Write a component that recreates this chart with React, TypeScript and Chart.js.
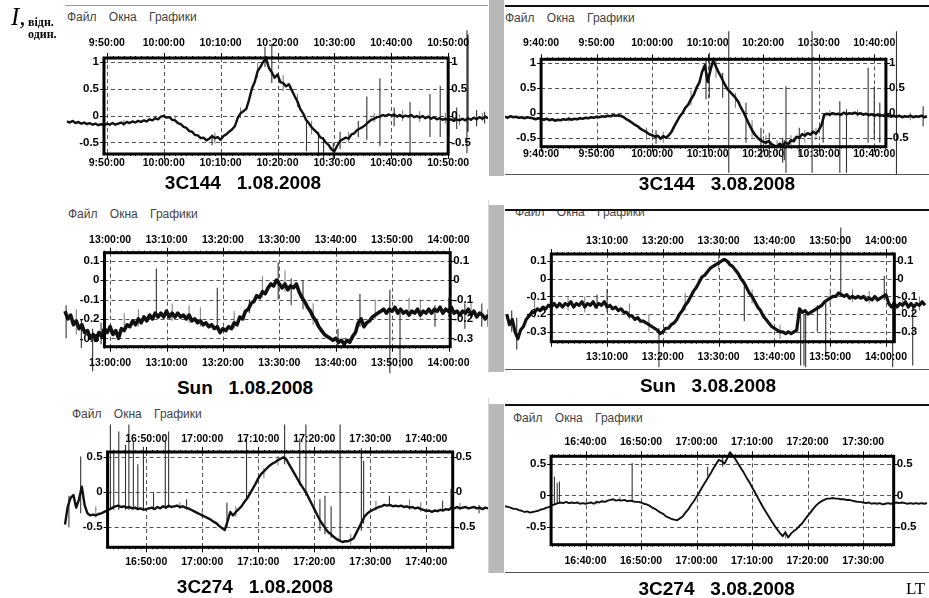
import { useEffect, useRef } from 'react';
import { Chart, registerables } from 'chart.js';

Chart.register(...registerables);

// samples are every half minute; time is in minutes from the first labelled tick
const STEP = 0.5;

// 3C144, 1.08.2008 (t = 0 at 9:50:00)
const start1 = -7;
const sig1 = [
  -0.11, -0.13, -0.10, -0.14, -0.12, -0.15, -0.13, -0.16, -0.14, -0.17,
  -0.15, -0.18, -0.16, -0.19, -0.15, -0.17, -0.14, -0.17, -0.15, -0.13,
  -0.16, -0.12, -0.14, -0.11, -0.13, -0.10, -0.12, -0.09, -0.11, -0.07,
  -0.09, -0.05, -0.07, -0.02, -0.01, -0.04, -0.03, -0.08, -0.09, -0.14,
  -0.16, -0.21, -0.23, -0.29, -0.30, -0.36, -0.37, -0.42, -0.41, -0.46,
  -0.43, -0.38, -0.42, -0.40, -0.45, -0.38, -0.35, -0.30, -0.26, -0.20,
  -0.05, 0.04, 0.08, 0.12, 0.29, 0.50, 0.62, 0.82, 0.90, 1.00,
  1.05, 0.88, 0.80, 0.70, 0.76, 0.62, 0.60, 0.54, 0.58, 0.47,
  0.36, 0.26, 0.12, 0.04, -0.08, -0.14, -0.22, -0.27, -0.32, -0.40,
  -0.43, -0.50, -0.55, -0.63, -0.66, -0.56, -0.47, -0.44, -0.41, -0.43,
  -0.35, -0.33, -0.27, -0.24, -0.21, -0.17, -0.12, -0.08, -0.06, -0.03,
  -0.02, 0.01, -0.01, 0.02, 0.00, 0.02, -0.02, 0.01, -0.03, 0.00,
  -0.02, 0.01, -0.03, -0.01, -0.04, -0.01, -0.05, -0.02, -0.06, -0.03,
  -0.07, -0.05, -0.08, -0.06, -0.09, -0.07, -0.10, -0.07, -0.09, -0.06,
  -0.09, -0.05, -0.08, -0.04, -0.07, -0.03, -0.06, -0.02, -0.05,
];
// [time, low, high]
const spikes1 = [
  [18.5, -0.55, -0.35], [27.8, 0.9, 1.27], [29.0, 0.6, 1.33], [35.1, -0.66, -0.05],
  [37.2, -0.75, -0.3], [38.1, -0.82, -0.4], [39.8, -0.82, -0.5], [41.0, -0.62, -0.3],
  [44.2, -0.4, -0.1], [45.7, -0.45, 0.35], [48.0, -0.57, 0.69], [50.5, -0.2, 0.15],
  [53.3, -0.75, 0.25], [56.8, -0.4, 0.4], [58.6, -0.4, 0.55], [60.1, -0.35, 0.2],
  [61.5, -0.25, 0.15], [63.3, -0.7, 1.58], [63.5, -0.3, 1.5], [65.0, -0.2, 0.1],
  [66.4, -0.15, 0.07],
];
const hairs1 = [
  [3, -0.2, -0.08], [12, -0.12, 0.0], [19, -0.52, -0.32], [23.5, -0.05, 0.15],
  [26.5, 0.7, 0.98], [31, 0.45, 0.75], [33.5, 0.15, 0.4], [36, -0.35, -0.1],
  [42.5, -0.5, -0.3], [47, -0.12, 0.05], [52, -0.1, 0.1], [55, -0.12, 0.08],
  [59.5, -0.15, 0.05], [62, -0.18, 0.02], [66, -0.1, 0.05],
];
const timeTicks1 = [0, 10, 20, 30, 40, 50, 60];
const timeLabels1 = ['9:50:00', '10:00:00', '10:10:00', '10:20:00', '10:30:00', '10:40:00', '10:50:00'];
const yTicks1 = [-0.5, 0, 0.5, 1];
const yLabels1 = ['-0.5', '0', '0.5', '1'];

// 3C144, 3.08.2008 (t = 0 at 9:40:00)
const start2 = -6.5;
const sig2 = [
  -0.08, -0.10, -0.07, -0.09, -0.08, -0.10, -0.09, -0.11, -0.09, -0.10,
  -0.11, -0.13, -0.11, -0.12, -0.14, -0.12, -0.15, -0.13, -0.16, -0.14,
  -0.15, -0.13, -0.14, -0.12, -0.14, -0.12, -0.13, -0.11, -0.12, -0.10,
  -0.11, -0.09, -0.10, -0.08, -0.09, -0.07, -0.08, -0.06, -0.07, -0.05,
  -0.06, -0.05, -0.07, -0.10, -0.14, -0.17, -0.21, -0.25, -0.28, -0.33,
  -0.36, -0.39, -0.43, -0.45, -0.48, -0.46, -0.52, -0.47, -0.50, -0.45,
  -0.38, -0.27, -0.17, -0.07, 0.00, 0.10, 0.16, 0.27, 0.36, 0.50,
  0.60, 0.82, 0.95, 0.62, 0.85, 1.05, 0.92, 0.80, 0.70, 0.58,
  0.48, 0.42, 0.36, 0.30, 0.22, 0.10, 0.00, -0.12, -0.24, -0.35,
  -0.44, -0.50, -0.55, -0.58, -0.60, -0.57, -0.63, -0.66, -0.68, -0.62,
  -0.66, -0.60, -0.63, -0.55, -0.57, -0.48, -0.50, -0.43, -0.46, -0.41,
  -0.44, -0.38, -0.42, -0.35, -0.25, -0.04, -0.02, -0.04, -0.01, -0.03,
  -0.02, -0.04, 0.00, -0.03, -0.01, -0.02, 0.00, -0.03, -0.01, -0.04,
  -0.02, -0.05, -0.03, -0.06, -0.04, -0.06, -0.05, -0.07, -0.05, -0.08,
  -0.06, -0.08, -0.06, -0.09, -0.07, -0.08, -0.06, -0.09, -0.07, -0.08,
  -0.06, -0.09, -0.07,
];
const spikes2 = [
  [20.7, -0.62, -0.35], [29.7, 0.27, 1.1], [30.3, 0.3, 1.2], [32.7, 0.3, 0.8],
  [33.8, -1.2, 1.63], [36.9, -0.6, 0.2], [39.6, -0.9, -0.3], [41.1, -0.9, -0.4],
  [43.5, -1.0, -0.5], [43.8, -0.95, -0.55], [44.1, -1.2, 0.53], [46.5, -0.85, -0.3],
  [48.8, -1.2, 1.63], [50.8, -0.6, -0.05], [53.8, -1.2, 0.23], [55.0, -1.2, 0.07],
  [58.9, -0.6, 0.9], [60.0, -0.53, 0.53], [61.0, -0.6, 0.2], [64.0, -1.23, 1.63],
  [68.8, -0.27, 0.13],
];
const hairs2 = [
  [5, -0.18, -0.08], [14, -0.1, 0.0], [19, -0.55, -0.3], [22, -0.6, -0.38],
  [27, 0.15, 0.45], [31.5, 0.7, 1.05], [35, 0.1, 0.4], [38, -0.5, -0.15],
  [40.5, -0.7, -0.45], [42.5, -0.85, -0.55], [45, -0.7, -0.45], [47.5, -0.6, -0.35],
  [49.5, -0.55, -0.3], [52, -0.08, 0.05], [57, -0.08, 0.06], [62.5, -0.12, 0.0],
  [66.5, -0.15, 0.0],
];
const timeTicks2 = [0, 10, 20, 30, 40, 50, 60];
const timeLabels2 = ['9:40:00', '9:50:00', '10:00:00', '10:10:00', '10:20:00', '10:30:00', '10:40:00'];
const yTicks2 = [-0.5, 0, 0.5, 1];
const yLabels2 = ['-0.5', '0', '0.5', '1'];

// Sun, 1.08.2008 (t = 0 at 13:00:00)
const start3 = -8;
const sig3 = [
  -0.16, -0.20, -0.18, -0.23, -0.21, -0.25, -0.23, -0.27, -0.26, -0.30,
  -0.28, -0.31, -0.27, -0.29, -0.25, -0.27, -0.24, -0.28, -0.26, -0.30,
  -0.25, -0.26, -0.23, -0.24, -0.21, -0.23, -0.20, -0.22, -0.19, -0.21,
  -0.18, -0.20, -0.17, -0.19, -0.17, -0.19, -0.16, -0.19, -0.17, -0.19,
  -0.17, -0.19, -0.18, -0.20, -0.18, -0.21, -0.20, -0.22, -0.21, -0.23,
  -0.22, -0.24, -0.23, -0.25, -0.24, -0.27, -0.25, -0.26, -0.24, -0.25,
  -0.22, -0.23, -0.19, -0.20, -0.16, -0.15, -0.12, -0.11, -0.08, -0.09,
  -0.06, -0.07, -0.04, -0.02, -0.03, 0.00, -0.02, -0.04, -0.02, -0.05,
  -0.03, -0.04, -0.02, -0.06, -0.09, -0.11, -0.14, -0.16, -0.19, -0.21,
  -0.24, -0.26, -0.28, -0.29, -0.30, -0.31, -0.30, -0.32, -0.31, -0.33,
  -0.31, -0.32, -0.29, -0.27, -0.22, -0.20, -0.24, -0.22, -0.21, -0.19,
  -0.18, -0.17, -0.16, -0.15, -0.17, -0.15, -0.16, -0.14, -0.17, -0.15,
  -0.17, -0.16, -0.18, -0.16, -0.17, -0.15, -0.18, -0.16, -0.17, -0.15,
  -0.17, -0.15, -0.16, -0.14, -0.17, -0.15, -0.16, -0.14, -0.17, -0.16,
  -0.18, -0.16, -0.17, -0.15, -0.18, -0.16, -0.19, -0.17, -0.18, -0.20,
  -0.18,
];
const spikes3 = [
  [-7.8, -0.3, -0.13], [-5.1, -0.35, -0.2], [-3.1, -0.47, -0.25], [-1.6, -0.33, -0.22],
  [8.2, -0.17, 0.06], [19.0, -0.26, -0.04], [24.7, -0.17, -0.1], [29.8, -0.1, 0.09],
  [32.1, -0.13, 0.01], [34.2, -0.15, 0.0], [40.4, -0.35, -0.25], [44.3, -0.24, -0.07],
  [49.6, -0.48, -0.05], [51.4, -0.45, -0.17], [57.6, -0.24, -0.13], [62.9, -0.25, -0.12],
  [65.9, -0.24, -0.12], [67.0, -0.24, -0.15],
];
const hairs3 = [
  [-6, -0.28, -0.15], [2.5, -0.27, -0.17], [5, -0.24, -0.15], [11, -0.21, -0.12],
  [14, -0.22, -0.13], [16, -0.24, -0.14], [22, -0.25, -0.16], [27, -0.09, 0.02],
  [31, -0.06, 0.05], [36, -0.23, -0.12], [47, -0.2, -0.1], [53, -0.19, -0.09],
  [55, -0.2, -0.1], [60, -0.19, -0.09], [64, -0.2, -0.11],
];
const timeTicks3 = [0, 10, 20, 30, 40, 50, 60];
const timeLabels3 = ['13:00:00', '13:10:00', '13:20:00', '13:30:00', '13:40:00', '13:50:00', '14:00:00'];
const yTicks3 = [-0.3, -0.2, -0.1, 0, 0.1];
const yLabels3 = ['-0.3', '-0.2', '-0.1', '0', '0.1'];

// Sun, 3.08.2008 (t = 0 at 13:00:00)
const start4 = -8;
const sig4 = [
  -0.20, -0.26, -0.23, -0.30, -0.34, -0.29, -0.27, -0.23, -0.21, -0.19,
  -0.19, -0.17, -0.18, -0.16, -0.17, -0.15, -0.16, -0.14, -0.16, -0.14,
  -0.16, -0.14, -0.15, -0.13, -0.16, -0.14, -0.15, -0.13, -0.16, -0.14,
  -0.15, -0.13, -0.16, -0.14, -0.15, -0.13, -0.16, -0.15, -0.17, -0.16,
  -0.18, -0.17, -0.19, -0.19, -0.21, -0.21, -0.23, -0.22, -0.24, -0.24,
  -0.25, -0.26, -0.27, -0.28, -0.29, -0.31, -0.30, -0.28, -0.28, -0.26,
  -0.25, -0.23, -0.20, -0.18, -0.15, -0.13, -0.10, -0.07, -0.05, -0.02,
  0.01, 0.02, 0.04, 0.06, 0.07, 0.08, 0.09, 0.10, 0.11, 0.10,
  0.08, 0.07, 0.05, 0.03, 0.00, -0.02, -0.05, -0.08, -0.10, -0.13,
  -0.16, -0.18, -0.21, -0.23, -0.25, -0.27, -0.28, -0.29, -0.30, -0.30,
  -0.31, -0.30, -0.31, -0.30, -0.29, -0.17, -0.19, -0.18, -0.20, -0.19,
  -0.18, -0.17, -0.16, -0.15, -0.13, -0.12, -0.11, -0.10, -0.10, -0.08,
  -0.09, -0.10, -0.09, -0.11, -0.10, -0.11, -0.10, -0.11, -0.10, -0.12,
  -0.11, -0.12, -0.10, -0.12, -0.11, -0.10, -0.09, -0.14, -0.16, -0.14,
  -0.16, -0.14, -0.15, -0.13, -0.16, -0.14, -0.16, -0.14, -0.15, -0.13,
  -0.15,
];
const spikes4 = [
  [-7.1, -0.3, -0.18], [-6.2, -0.4, -0.22], [8.2, -0.17, -0.09], [10.0, -0.19, -0.06],
  [19.3, -0.5, -0.28], [34.6, -0.24, -0.04], [44.7, -0.49, -0.17], [45.3, -0.49, -0.2],
  [45.6, -0.5, -0.2], [47.7, -0.3, -0.15], [49.2, -0.44, -0.13], [51.9, -0.1, 0.29],
  [59.7, -0.12, 0.015], [61.2, -0.5, -0.13], [64.8, -0.49, -0.15],
];
const hairs4 = [
  [-3, -0.22, -0.12], [3, -0.18, -0.1], [6, -0.19, -0.1], [14, -0.23, -0.14],
  [17.5, -0.3, -0.2], [24, -0.18, -0.08], [30, 0.05, 0.14], [36, -0.14, -0.06],
  [41, -0.34, -0.26], [50, -0.15, -0.06], [54, -0.13, -0.06], [57, -0.14, -0.07],
  [63, -0.18, -0.1], [66, -0.18, -0.1],
];
const timeTicks4 = [10, 20, 30, 40, 50, 60];
const timeLabels4 = ['13:10:00', '13:20:00', '13:30:00', '13:40:00', '13:50:00', '14:00:00'];
const yTicks4 = [-0.3, -0.2, -0.1, 0, 0.1];
const yLabels4 = ['-0.3', '-0.2', '-0.1', '0', '0.1'];

// 3C274, 1.08.2008 (t = 0 at 16:50:00)
const start5 = -14.5;
const sig5 = [
  -0.46, -0.20, -0.08, -0.04, -0.22, -0.10, 0.08, -0.18, -0.30, -0.33,
  -0.32, -0.33, -0.31, -0.30, -0.28, -0.26, -0.24, -0.22, -0.20, -0.19,
  -0.21, -0.20, -0.22, -0.21, -0.23, -0.22, -0.24, -0.23, -0.25, -0.24,
  -0.23, -0.22, -0.24, -0.21, -0.23, -0.20, -0.22, -0.19, -0.21, -0.20,
  -0.19, -0.21, -0.20, -0.22, -0.23, -0.25, -0.27, -0.29, -0.31, -0.33,
  -0.35, -0.37, -0.39, -0.42, -0.44, -0.48, -0.51, -0.54, -0.42, -0.28,
  -0.33, -0.28, -0.24, -0.20, -0.14, -0.09, -0.02, 0.05, 0.12, 0.20,
  0.26, 0.30, 0.34, 0.38, 0.41, 0.43, 0.46, 0.48, 0.50, 0.47,
  0.40, 0.33, 0.26, 0.19, 0.12, 0.06, 0.00, -0.08, -0.16, -0.24,
  -0.32, -0.40, -0.46, -0.52, -0.57, -0.60, -0.64, -0.67, -0.69, -0.71,
  -0.70, -0.70, -0.68, -0.66, -0.58, -0.50, -0.42, -0.34, -0.30, -0.27,
  -0.25, -0.23, -0.21, -0.20, -0.18, -0.19, -0.18, -0.20, -0.19, -0.20,
  -0.19, -0.21, -0.20, -0.22, -0.21, -0.23, -0.22, -0.24, -0.25, -0.27,
  -0.26, -0.28, -0.26, -0.27, -0.25, -0.26, -0.24, -0.25, -0.22, -0.23,
  -0.21, -0.23, -0.22, -0.21, -0.23, -0.22, -0.21, -0.23, -0.22, -0.24,
  -0.22, -0.23,
];
const spikes5 = [
  [-13.8, -0.5, -0.05], [-11.7, -0.3, 0.51], [-6.4, -0.25, 0.97], [-5.8, -0.25, 0.6],
  [-4.9, -0.25, 0.87], [-3.7, -0.25, 0.68], [-3.1, -0.25, 0.97], [-2.3, -0.25, 0.73],
  [-1.5, -0.25, 0.4], [-0.5, -0.25, 0.65], [1.3, -0.25, 0.0], [3.4, -0.22, 0.73],
  [4.0, -0.22, 0.87], [7.2, -0.25, -0.1], [14.4, -0.5, -0.15], [17.9, -0.1, 0.77],
  [24.7, 0.4, 0.97], [27.4, 0.1, 0.77], [28.5, -0.05, 0.97], [31.0, -0.55, -0.1],
  [31.9, -0.6, -0.05], [33.0, -0.65, -0.2], [34.6, -0.7, 0.97], [38.4, -0.55, 0.63],
  [38.8, -0.45, 0.45], [43.4, -0.2, -0.05], [52.9, -0.25, -0.12], [54.4, -0.22, 0.05],
  [59.4, -0.3, -0.18],
];
const hairs5 = [
  [-9, -0.36, -0.2], [6, -0.24, -0.14], [10, -0.35, -0.25], [16, -0.35, -0.2],
  [21, 0.2, 0.35], [23.5, 0.38, 0.52], [30, -0.3, -0.1], [36.5, -0.75, -0.6],
  [41, -0.26, -0.12], [47, -0.25, -0.1], [49, -0.28, -0.14], [56, -0.25, -0.15],
];
const timeTicks5 = [0, 10, 20, 30, 40, 50];
const timeLabels5 = ['16:50:00', '17:00:00', '17:10:00', '17:20:00', '17:30:00', '17:40:00'];
const yTicks5 = [-0.5, 0, 0.5];
const yLabels5 = ['-0.5', '0', '0.5'];

// 3C274, 3.08.2008 (t = 0 at 16:40:00)
const start6 = -14.5;
const sig6 = [
  -0.17, -0.18, -0.19, -0.21, -0.21, -0.23, -0.24, -0.26, -0.25, -0.27,
  -0.26, -0.25, -0.24, -0.22, -0.21, -0.19, -0.18, -0.15, -0.14, -0.12,
  -0.11, -0.12, -0.10, -0.12, -0.11, -0.12, -0.11, -0.13, -0.12, -0.13,
  -0.12, -0.11, -0.13, -0.10, -0.11, -0.09, -0.10, -0.08, -0.07, -0.06,
  -0.08, -0.07, -0.08, -0.07, -0.09, -0.08, -0.09, -0.10, -0.10, -0.11,
  -0.13, -0.14, -0.16, -0.19, -0.21, -0.24, -0.27, -0.29, -0.33, -0.35,
  -0.37, -0.38, -0.39, -0.36, -0.33, -0.27, -0.22, -0.15, -0.09, -0.02,
  0.05, 0.13, 0.20, 0.27, 0.34, 0.42, 0.49, 0.56, 0.54, 0.50,
  0.58, 0.68, 0.63, 0.57, 0.50, 0.43, 0.36, 0.28, 0.21, 0.13,
  0.05, -0.03, -0.11, -0.19, -0.26, -0.33, -0.40, -0.47, -0.53, -0.59,
  -0.64, -0.58, -0.66, -0.60, -0.56, -0.53, -0.48, -0.44, -0.38, -0.32,
  -0.27, -0.21, -0.16, -0.12, -0.09, -0.07, -0.05, -0.05, -0.04, -0.05,
  -0.05, -0.06, -0.06, -0.07, -0.07, -0.08, -0.09, -0.10, -0.10, -0.11,
  -0.12, -0.11, -0.13, -0.12, -0.13, -0.12, -0.14, -0.13, -0.12, -0.13,
  -0.12, -0.11, -0.12, -0.11, -0.12, -0.13, -0.12, -0.13, -0.12, -0.13,
  -0.12, -0.13, -0.12,
];
const spikes6 = [
  [-5.6, -0.15, 0.3], [-5.1, -0.13, 0.2], [-4.7, -0.13, 0.22], [8.4, -0.09, 0.51],
  [22.0, 0.3, 0.45], [24.7, 0.45, 0.62],
];
const hairs6 = [[2, -0.14, -0.08], [6.2, -0.1, -0.02], [36, -0.68, -0.55]];
const timeTicks6 = [0, 10, 20, 30, 40, 50];
const timeLabels6 = ['16:40:00', '16:50:00', '17:00:00', '17:10:00', '17:20:00', '17:30:00'];
const yTicks6 = [-0.5, 0, 0.5];
const yLabels6 = ['-0.5', '0', '0.5'];

type Lay = {
  colX: number; colW: number; top: number; bottom: number;
  dataL: number; dataR: number; boxT: number; boxB: number;
  topLbl: number; botLbl: number; box: number[]; yMin: number; yMax: number; lw: number;
};
type PanelDef = {
  sig: number[]; start: number; spikes: number[][]; hairs: number[][];
  ticks: number[]; labels: string[]; yTicks: number[]; yLabels: string[]; lay: Lay;
};

const panels: PanelDef[] = [
  { sig: sig1, start: start1, spikes: spikes1, hairs: hairs1, ticks: timeTicks1, labels: timeLabels1, yTicks: yTicks1, yLabels: yLabels1,
    lay: { colX: 0, colW: 488, top: 20, bottom: 178, dataL: 67, dataR: 488, boxT: 58, boxB: 154, topLbl: 43, botLbl: 163, box: [-0.5, 60], yMin: -0.713, yMax: 1.065, lw: 2.4 } },
  { sig: sig2, start: start2, spikes: spikes2, hairs: hairs2, ticks: timeTicks2, labels: timeLabels2, yTicks: yTicks2, yLabels: yLabels2,
    lay: { colX: 505, colW: 424, top: 20, bottom: 178, dataL: 505, dataR: 927, boxT: 59.3, boxB: 146.7, topLbl: 43, botLbl: 154, box: [0, 62.1], yMin: -0.68, yMax: 1.068, lw: 2.6 } },
  { sig: sig3, start: start3, spikes: spikes3, hairs: hairs3, ticks: timeTicks3, labels: timeLabels3, yTicks: yTicks3, yLabels: yLabels3,
    lay: { colX: 0, colW: 488, top: 222, bottom: 376, dataL: 65, dataR: 488, boxT: 252.7, boxB: 346.7, topLbl: 240, botLbl: 363.3, box: [-1, 60.3], yMin: -0.343, yMax: 0.141, lw: 3.6 } },
  { sig: sig4, start: start4, spikes: spikes4, hairs: hairs4, ticks: timeTicks4, labels: timeLabels4, yTicks: yTicks4, yLabels: yLabels4,
    lay: { colX: 505, colW: 424, top: 222, bottom: 376, dataL: 506.7, dataR: 925, boxT: 254, boxB: 341.7, topLbl: 241, botLbl: 356.7, box: [0, 61.5], yMin: -0.356, yMax: 0.14, lw: 3.2 } },
  { sig: sig5, start: start5, spikes: spikes5, hairs: hairs5, ticks: timeTicks5, labels: timeLabels5, yTicks: yTicks5, yLabels: yLabels5,
    lay: { colX: 0, colW: 488, top: 420, bottom: 576, dataL: 65, dataR: 488, boxT: 452, boxB: 547.3, topLbl: 439, botLbl: 562, box: [-6.9, 54.7], yMin: -0.786, yMax: 0.576, lw: 2.4 } },
  { sig: sig6, start: start6, spikes: spikes6, hairs: hairs6, ticks: timeTicks6, labels: timeLabels6, yTicks: yTicks6, yLabels: yLabels6,
    lay: { colX: 505, colW: 424, top: 420, bottom: 576, dataL: 505, dataR: 927, boxT: 456.3, boxB: 544.7, topLbl: 442.3, botLbl: 561.3, box: [-6.2, 55.5], yMin: -0.774, yMax: 0.616, lw: 1.9 } },
];

const SANS = '"Liberation Sans", Arial, sans-serif';
const SERIF = '"Liberation Serif", "Times New Roman", serif';

function makeDeco(p: PanelDef) {
  return {
    id: 'deco',
    beforeDatasetsDraw(chart: any) {
      const { ctx, chartArea } = chart;
      const xs = chart.scales.x, ys = chart.scales.y;
      const l = xs.getPixelForValue(p.lay.box[0]);
      const r = xs.getPixelForValue(p.lay.box[1]);
      const t = chartArea.top, b = chartArea.bottom;
      ctx.save();
      ctx.strokeStyle = '#555';
      ctx.lineWidth = 1;
      ctx.setLineDash([4, 3]);
      ctx.beginPath();
      p.ticks.forEach((v) => {
        const x = Math.round(xs.getPixelForValue(v)) + 0.5;
        if (x > l + 3 && x < r - 3) { ctx.moveTo(x, t); ctx.lineTo(x, b); }
      });
      p.yTicks.forEach((v) => {
        const y = Math.round(ys.getPixelForValue(v)) + 0.5;
        if (y > t + 2 && y < b - 2) { ctx.moveTo(l, y); ctx.lineTo(r, y); }
      });
      ctx.stroke();
      ctx.restore();
    },
    afterDatasetsDraw(chart: any) {
      const { ctx, chartArea } = chart;
      const xs = chart.scales.x, ys = chart.scales.y;
      const l = xs.getPixelForValue(p.lay.box[0]);
      const r = xs.getPixelForValue(p.lay.box[1]);
      const t = chartArea.top, b = chartArea.bottom;
      ctx.save();
      ctx.strokeStyle = '#000';
      // minor and major ticks on the box edges
      ctx.lineWidth = 1;
      ctx.beginPath();
      for (let m = Math.ceil(p.lay.box[0]); m <= p.lay.box[1]; m += 1) {
        const x = Math.round(xs.getPixelForValue(m)) + 0.5;
        const len = m % 10 === 0 ? 5 : 2;
        ctx.moveTo(x, t); ctx.lineTo(x, t - len);
        ctx.moveTo(x, b); ctx.lineTo(x, b + len);
      }
      p.yTicks.forEach((v) => {
        const y = Math.round(ys.getPixelForValue(v)) + 0.5;
        ctx.moveTo(l, y); ctx.lineTo(l - 4, y);
        ctx.moveTo(r, y); ctx.lineTo(r + 4, y);
      });
      ctx.stroke();
      ctx.lineWidth = 3;
      ctx.strokeRect(l, t, r - l, b - t);

      ctx.fillStyle = '#000';
      ctx.textBaseline = 'middle';
      ctx.textAlign = 'center';
      ctx.font = 'bold 10.5px ' + SANS;
      const topY = p.lay.topLbl - p.lay.top;
      const botY = p.lay.botLbl - p.lay.top;
      p.ticks.forEach((v, i) => {
        const x = xs.getPixelForValue(v);
        ctx.fillText(p.labels[i], x, topY);
        ctx.fillText(p.labels[i], x, botY);
      });
      ctx.font = 'bold 11.5px ' + SANS;
      p.yTicks.forEach((v, i) => {
        const y = ys.getPixelForValue(v);
        ctx.textAlign = 'right';
        ctx.fillText(p.yLabels[i], l - 5, y);
        ctx.textAlign = 'left';
        ctx.fillText(p.yLabels[i], r + 3, y);
      });
      ctx.restore();
    },
  };
}

function toSegments(list: number[][]) {
  const out: { x: number; y: number | null }[] = [];
  [...list].sort((a, b) => a[0] - b[0]).forEach(([t, lo, hi]) => {
    out.push({ x: t, y: lo }, { x: t, y: hi }, { x: t, y: null });
  });
  return out;
}

function Panel({ p }: { p: PanelDef }) {
  const ref = useRef<HTMLCanvasElement>(null);
  const { lay } = p;
  const h = lay.bottom - lay.top;

  useEffect(() => {
    const trace = p.sig.map((v, i) => ({ x: p.start + i * STEP, y: v }));
    const end = p.start + (p.sig.length - 1) * STEP;

    const chart = new Chart(ref.current as HTMLCanvasElement, {
      type: 'line',
      data: {
        datasets: [
          { data: toSegments(p.hairs) as any, borderColor: '#777', borderWidth: 1, pointRadius: 0, spanGaps: false, clip: false as any, order: 3 },
          { data: toSegments(p.spikes) as any, borderColor: '#333', borderWidth: 1.1, pointRadius: 0, spanGaps: false, clip: false as any, order: 2 },
          { data: trace, borderColor: '#111', borderWidth: lay.lw, borderJoinStyle: 'round', pointRadius: 0, clip: false as any, order: 1 },
        ],
      },
      options: {
        animation: false,
        responsive: false,
        maintainAspectRatio: false,
        events: [],
        layout: {
          padding: {
            left: lay.dataL - lay.colX,
            right: lay.colX + lay.colW - lay.dataR,
            top: lay.boxT - lay.top,
            bottom: lay.bottom - lay.boxB,
          },
        },
        scales: {
          x: { type: 'linear', display: false, min: p.start, max: end, offset: false },
          y: { type: 'linear', display: false, min: lay.yMin, max: lay.yMax },
        },
        plugins: { legend: { display: false }, tooltip: { enabled: false } },
      },
      plugins: [makeDeco(p)],
    });

    return () => {
      chart.destroy();
    };
  }, [p]);

  return (
    <canvas
      ref={ref}
      width={lay.colW}
      height={h}
      style={{ position: 'absolute', left: lay.colX, top: lay.top, width: lay.colW, height: h }}
    />
  );
}

const captions = [
  { text: '3C144   1.08.2008', x: 243, y: 182 },
  { text: '3C144   3.08.2008', x: 717, y: 183 },
  { text: 'Sun   1.08.2008', x: 245, y: 386.7 },
  { text: 'Sun   3.08.2008', x: 708, y: 385 },
  { text: '3C274   1.08.2008', x: 255, y: 586.3 },
  { text: '3C274   3.08.2008', x: 716.7, y: 588 },
];

const menus = [
  { x: 67, y: 10, clip: 0 },
  { x: 505, y: 11, clip: 0 },
  { x: 68, y: 207, clip: 0 },
  { x: 515, y: 205, clip: 211 },
  { x: 72, y: 407, clip: 0 },
  { x: 513, y: 411, clip: 0 },
];

const menuStyle = { fontFamily: SANS, fontSize: 12, color: '#444', wordSpacing: 9, whiteSpace: 'pre' as const, lineHeight: '14px' };

export default function App() {
  return (
    <div style={{ position: 'absolute', left: 0, top: 0, width: 929, height: 598, background: '#fff', overflow: 'hidden' }}>
      {/* frame pieces of the screenshots */}
      <div style={{ position: 'absolute', left: 65, top: 5, width: 423, height: 1, background: '#999' }} />
      <div style={{ position: 'absolute', left: 488, top: 200, width: 1, height: 173, background: '#d4d4d4' }} />
      <div style={{ position: 'absolute', left: 488, top: 398, width: 1, height: 175, background: '#d4d4d4' }} />
      <div style={{ position: 'absolute', left: 489, top: 0, width: 15, height: 176, background: '#b8b8b8' }} />
      <div style={{ position: 'absolute', left: 489, top: 205, width: 15, height: 167, background: '#b8b8b8' }} />
      <div style={{ position: 'absolute', left: 489, top: 404, width: 15, height: 169, background: '#b8b8b8' }} />
      <div style={{ position: 'absolute', left: 505, top: 5, width: 424, height: 2, background: '#111' }} />
      <div style={{ position: 'absolute', left: 505, top: 174, width: 424, height: 1, background: '#555' }} />
      <div style={{ position: 'absolute', left: 505, top: 209, width: 424, height: 2, background: '#111' }} />
      <div style={{ position: 'absolute', left: 505, top: 369, width: 424, height: 1, background: '#555' }} />
      <div style={{ position: 'absolute', left: 505, top: 404, width: 424, height: 2, background: '#111' }} />
      <div style={{ position: 'absolute', left: 505, top: 572, width: 424, height: 1, background: '#555' }} />

      {menus.map((m, i) =>
        m.clip ? (
          <div key={i} style={{ position: 'absolute', left: m.x, top: m.clip, height: 10, width: 200, overflow: 'hidden' }}>
            <div style={{ ...menuStyle, marginTop: m.y - m.clip }}>Файл Окна Графики</div>
          </div>
        ) : (
          <div key={i} style={{ ...menuStyle, position: 'absolute', left: m.x, top: m.y }}>Файл Окна Графики</div>
        )
      )}

      {panels.map((p, i) => <Panel key={i} p={p} />)}

      {captions.map((c, i) => (
        <div
          key={i}
          style={{
            position: 'absolute', left: c.x, top: c.y, transform: 'translate(-50%, -50%)',
            fontFamily: SANS, fontWeight: 'bold', fontSize: 19, lineHeight: 1, whiteSpace: 'pre', color: '#000',
          }}
        >
          {c.text}
        </div>
      ))}

      <div style={{ position: 'absolute', left: 11, top: 4, fontFamily: SERIF, fontStyle: 'italic', fontSize: 25, lineHeight: 1 }}>I,</div>
      <div style={{ position: 'absolute', left: 28, top: 16, fontFamily: SERIF, fontWeight: 'bold', fontSize: 12, lineHeight: 1 }}>відн.</div>
      <div style={{ position: 'absolute', left: 28, top: 28, fontFamily: SERIF, fontWeight: 'bold', fontSize: 12, lineHeight: 1 }}>один.</div>
      <div style={{ position: 'absolute', left: 906, top: 580, fontFamily: SERIF, fontSize: 17, lineHeight: 1 }}>LT</div>
    </div>
  );
}
